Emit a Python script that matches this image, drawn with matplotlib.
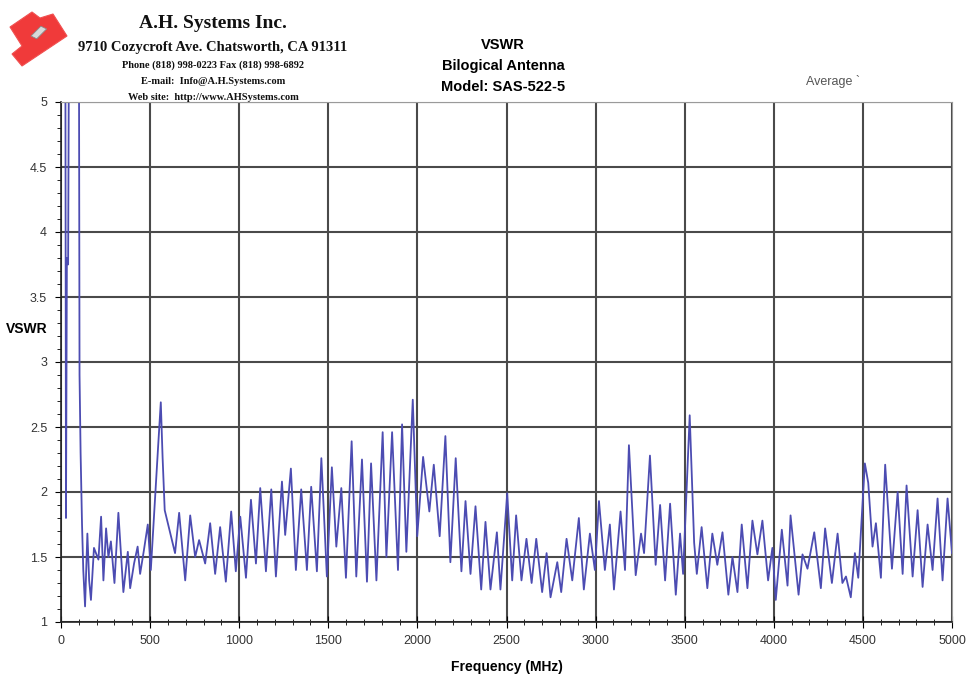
import numpy as np
import matplotlib.pyplot as plt
from matplotlib.patches import Polygon, Rectangle
from matplotlib.ticker import MultipleLocator, FormatStrFormatter

# VSWR trace read from the sweep (peaks/troughs), MHz vs VSWR
freq = [0, 24, 28, 33, 40, 46, 100, 104, 110, 118, 125, 135, 148, 158, 168, 185,
        210, 225, 238, 253, 266, 280, 300, 322, 350, 375, 388, 410, 430, 444, 465,
        487, 504, 525, 545, 560, 570, 582, 610, 640, 663, 697, 725, 753, 775, 809,
        837, 865, 893, 925, 955, 981, 1006, 1038, 1066, 1094, 1118, 1150, 1180,
        1206, 1240, 1258, 1290, 1318, 1348, 1380, 1404, 1436, 1461, 1492, 1520,
        1545, 1573, 1599, 1631, 1657, 1689, 1717, 1740, 1770, 1805, 1826, 1858,
        1891, 1914, 1938, 1974, 1999, 2032, 2067, 2092, 2125, 2157, 2185, 2215,
        2247, 2270, 2298, 2326, 2358, 2382, 2410, 2446, 2466, 2504, 2532, 2554,
        2584, 2612, 2641, 2667, 2700, 2725, 2747, 2785, 2807, 2837, 2869, 2906,
        2934, 2968, 2996, 3019, 3052, 3080, 3103, 3140, 3165, 3187, 3225, 3255,
        3272, 3305, 3337, 3362, 3390, 3418, 3450, 3474, 3491, 3528, 3553, 3568,
        3595, 3627, 3655, 3683, 3712, 3745, 3768, 3796, 3820, 3852, 3880, 3908,
        3936, 3968, 3992, 4011, 4045, 4077, 4094, 4139, 4161, 4189, 4227, 4264,
        4288, 4326, 4358, 4385, 4405, 4432, 4455, 4474, 4511, 4530, 4554, 4573,
        4601, 4625, 4663, 4695, 4723, 4745, 4779, 4807, 4835, 4863, 4891, 4919,
        4947, 4975, 5000]
vswr = [6.0, 6.0, 1.80, 3.80, 3.75, 6.0, 6.0, 2.90, 2.30, 1.75, 1.40, 1.12, 1.68,
        1.32, 1.17, 1.57, 1.48, 1.81, 1.32, 1.72, 1.50, 1.62, 1.30, 1.84, 1.23,
        1.54, 1.26, 1.45, 1.58, 1.37, 1.55, 1.75, 1.40, 1.89, 2.35, 2.69, 2.27,
        1.86, 1.70, 1.53, 1.84, 1.32, 1.82, 1.50, 1.63, 1.45, 1.76, 1.37, 1.73,
        1.31, 1.85, 1.39, 1.81, 1.34, 1.94, 1.45, 2.03, 1.39, 2.02, 1.35, 2.08,
        1.67, 2.18, 1.40, 2.02, 1.40, 2.04, 1.39, 2.26, 1.35, 2.19, 1.58, 2.03,
        1.34, 2.39, 1.35, 2.25, 1.31, 2.22, 1.32, 2.46, 1.50, 2.46, 1.40, 2.52,
        1.54, 2.71, 1.66, 2.27, 1.85, 2.21, 1.66, 2.43, 1.46, 2.26, 1.39, 1.93,
        1.37, 1.89, 1.25, 1.77, 1.25, 1.69, 1.25, 1.99, 1.32, 1.82, 1.32, 1.64,
        1.30, 1.64, 1.23, 1.53, 1.19, 1.46, 1.23, 1.64, 1.32, 1.80, 1.25, 1.68,
        1.40, 1.93, 1.40, 1.75, 1.25, 1.85, 1.40, 2.36, 1.36, 1.68, 1.53, 2.28,
        1.44, 1.90, 1.32, 1.91, 1.21, 1.68, 1.37, 2.59, 1.61, 1.37, 1.73, 1.26,
        1.68, 1.44, 1.69, 1.21, 1.50, 1.23, 1.75, 1.26, 1.78, 1.52, 1.78, 1.32,
        1.57, 1.17, 1.71, 1.28, 1.82, 1.21, 1.52, 1.41, 1.69, 1.26, 1.72, 1.30,
        1.68, 1.30, 1.35, 1.19, 1.53, 1.34, 2.22, 2.07, 1.58, 1.76, 1.34, 2.21,
        1.41, 2.00, 1.37, 2.05, 1.35, 1.86, 1.27, 1.75, 1.40, 1.95, 1.32, 1.95,
        1.53]

W, H = 970, 677
fig = plt.figure(figsize=(W / 100, H / 100), dpi=100)

def fx(px):
    return px / W

def fy(py):
    return 1 - py / H

ax = fig.add_axes([fx(61), fy(622), (952 - 61) / W, (622 - 102) / H])
ax.plot(freq, vswr, color='#4c4cb2', lw=1.3)

ax.set_xlim(0, 5000)
ax.set_ylim(1, 5)
ax.xaxis.set_major_locator(MultipleLocator(500))
ax.xaxis.set_minor_locator(MultipleLocator(100))
ax.yaxis.set_major_locator(MultipleLocator(0.5))
ax.yaxis.set_minor_locator(MultipleLocator(0.1))
ax.yaxis.set_major_formatter(FormatStrFormatter('%g'))
ax.grid(which='major', color='#4a4a4a', lw=1.5)
ax.set_axisbelow(True)

for s in ['top', 'right']:
    ax.spines[s].set_color('#9a9a9a')
for s in ['left', 'bottom']:
    ax.spines[s].set_color('#222222')
    ax.spines[s].set_linewidth(1.2)

ax.tick_params(axis='x', which='major', direction='inout', length=8, pad=5,
               labelsize=9, labelcolor='#333333')
ax.tick_params(axis='x', which='minor', direction='inout', length=5)
ax.tick_params(axis='y', which='major', direction='out', length=4, pad=6,
               labelsize=9, labelcolor='#333333')
ax.tick_params(axis='y', which='minor', direction='out', length=3)
for lab in ax.get_xticklabels() + ax.get_yticklabels():
    lab.set_family('Liberation Sans')

fig.text(fx(507), fy(667), 'Frequency (MHz)', ha='center', va='center',
         fontsize=10, fontweight='bold', family='Liberation Sans')
fig.text(fx(27), fy(329), 'VSWR', ha='center', va='center',
         fontsize=10, fontweight='bold', family='Liberation Sans')

# chart title
for txt, y in [('VSWR', 45), ('Bilogical Antenna', 66), ('Model: SAS-522-5', 87)]:
    fig.text(fx(503), fy(y), txt, ha='center', va='center', fontsize=10.5,
             fontweight='bold', family='Liberation Sans')
fig.text(fx(833), fy(82), 'Average `', ha='center', va='center', fontsize=9,
         color='#555555', family='Liberation Sans')

# company header
hdr = [('A.H. Systems Inc.', 23, 14),
       ('9710 Cozycroft Ave. Chatsworth, CA 91311', 47, 10.5),
       ('Phone (818) 998-0223 Fax (818) 998-6892', 65, 7.5),
       ('E-mail:  Info@A.H.Systems.com', 81, 7.5),
       ('Web site:  http://www.AHSystems.com', 97, 7.5)]
for txt, y, sz in hdr:
    fig.text(fx(213), fy(y), txt, ha='center', va='center', fontsize=sz,
             fontweight='bold', family='Liberation Serif', color='#111111')

# logo
logo = [(10, 27), (32, 12), (40, 18), (53, 14), (67, 36), (22, 66), (12, 54), (22, 46)]
fig.patches.append(Polygon([(fx(x), fy(y)) for x, y in logo], closed=True,
                           transform=fig.transFigure, facecolor='#f03a3a',
                           edgecolor='#f05050', lw=0.8))
fig.patches.append(Rectangle((fx(31), fy(36)), 7 / W, 12 / H, angle=-35,
                             transform=fig.transFigure, facecolor='#d8d8d8',
                             edgecolor='#888888', lw=0.6))

fig.savefig('out.png', dpi=100)
